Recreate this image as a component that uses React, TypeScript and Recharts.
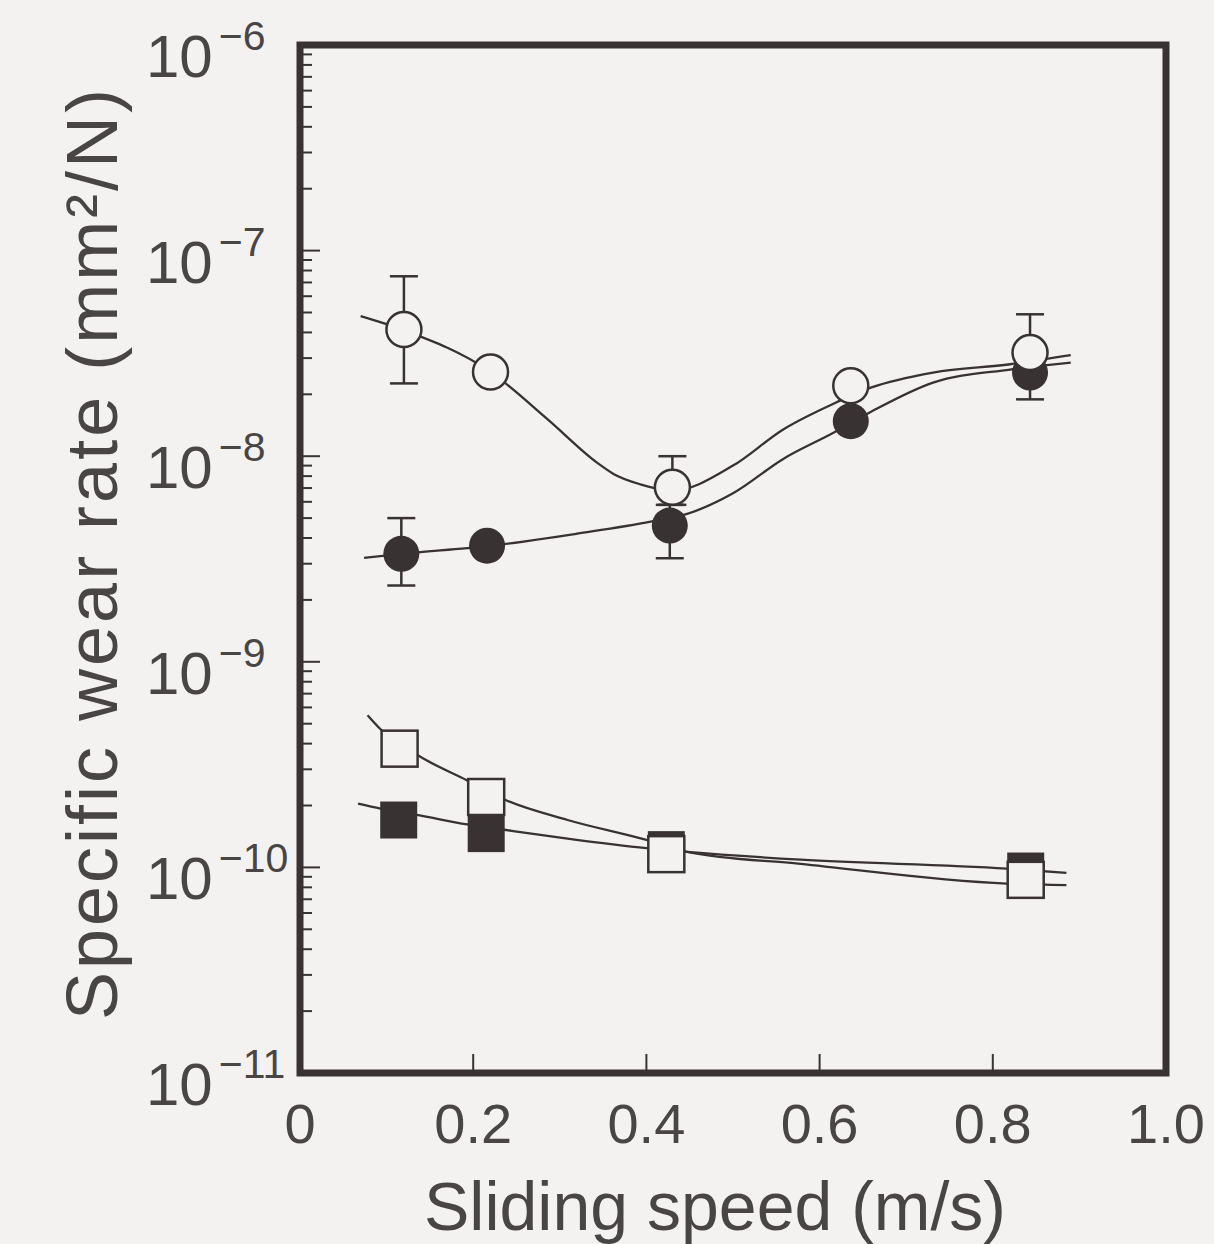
import React from "react";
import { ComposedChart, ErrorBar, Label, Line, ReferenceArea, Scatter, XAxis, YAxis } from "recharts";

const ink = "#383232";
const paper = "#f4f2f1";
const textInk = "#4a4545";
const font = "'Liberation Sans', Arial, Helvetica, sans-serif";

// axes
const xTickValues = [0, 0.2, 0.4, 0.6, 0.8, 1.0];
const xTickLabels = ["0", "0.2", "0.4", "0.6", "0.8", "1.0"];
const decadeExponents = [-11, -10, -9, -8, -7, -6];
const minorSteps = [2, 3, 4, 5, 6, 7, 8, 9];

// measured points
const openCircleX = [0.12, 0.22, 0.43, 0.636, 0.843];
const openCircleY = [4.13e-8, 2.57e-8, 7.06e-9, 2.2e-8, 3.19e-8];
const openCircleLow = [2.26e-8, null, 5.8e-9, null, 2.5e-8];
const openCircleHigh = [7.5e-8, null, 1.0e-8, null, 4.9e-8];

const filledCircleX = [0.117, 0.216, 0.427, 0.636, 0.843];
const filledCircleY = [3.35e-9, 3.67e-9, 4.6e-9, 1.48e-8, 2.55e-8];
const filledCircleLow = [2.35e-9, null, 3.19e-9, null, 1.89e-8];
const filledCircleHigh = [5.0e-9, null, 5.8e-9, null, 3.0e-8];

const openSquareX = [0.115, 0.215, 0.423, 0.838];
const openSquareY = [3.78e-10, 2.2e-10, 1.16e-10, 8.7e-11];

const filledSquareX = [0.114, 0.215, 0.423, 0.838];
const filledSquareY = [1.7e-10, 1.46e-10, 1.22e-10, 9.6e-11];

// fitted curves
const openCircleFitX = [0.07, 0.12, 0.22, 0.286, 0.343, 0.362, 0.393, 0.43, 0.5, 0.558, 0.616, 0.66, 0.731, 0.82, 0.89];
const openCircleFitY = [4.8e-8, 4.1e-8, 2.57e-8, 1.51e-8, 9.3e-9, 8.2e-9, 7.3e-9, 6.8e-9, 9.0e-9, 1.35e-8, 1.8e-8, 2.16e-8, 2.55e-8, 2.8e-8, 3.1e-8];

const filledCircleFitX = [0.074, 0.117, 0.216, 0.32, 0.405, 0.447, 0.5, 0.558, 0.616, 0.66, 0.731, 0.82, 0.89];
const filledCircleFitY = [3.2e-9, 3.35e-9, 3.65e-9, 4.2e-9, 4.8e-9, 5.24e-9, 6.6e-9, 9.7e-9, 1.3e-8, 1.65e-8, 2.28e-8, 2.64e-8, 2.85e-8];

const openSquareFitX = [0.078, 0.093, 0.138, 0.193, 0.238, 0.309, 0.4, 0.447, 0.578, 0.816, 0.885];
const openSquareFitY = [5.5e-10, 4.7e-10, 3.47e-10, 2.65e-10, 2.12e-10, 1.7e-10, 1.36e-10, 1.19e-10, 1.04e-10, 8.34e-11, 8.2e-11];

const filledSquareFitX = [0.067, 0.093, 0.135, 0.193, 0.238, 0.309, 0.4, 0.447, 0.578, 0.816, 0.885];
const filledSquareFitY = [2.04e-10, 1.93e-10, 1.8e-10, 1.62e-10, 1.52e-10, 1.38e-10, 1.24e-10, 1.19e-10, 1.09e-10, 9.87e-11, 9.4e-11];

const yTicks: number[] = [];
decadeExponents.forEach((e) => {
  yTicks.push(Math.pow(10, e));
  if (e < -6) minorSteps.forEach((m) => yTicks.push(m * Math.pow(10, e)));
});

function toPoints(xs: number[], ys: number[], lo?: (number | null)[], hi?: (number | null)[]) {
  return xs.map((x, i) => {
    const l = lo ? lo[i] : null;
    const h = hi ? hi[i] : null;
    return { x, y: ys[i], err: l != null && h != null ? [ys[i] - l, h - ys[i]] : null };
  });
}

const openCircles = toPoints(openCircleX, openCircleY, openCircleLow, openCircleHigh);
const filledCircles = toPoints(filledCircleX, filledCircleY, filledCircleLow, filledCircleHigh);
const openSquares = toPoints(openSquareX, openSquareY);
const filledSquares = toPoints(filledSquareX, filledSquareY);

const curves = [
  toPoints(openCircleFitX, openCircleFitY),
  toPoints(filledCircleFitX, filledCircleFitY),
  toPoints(openSquareFitX, openSquareFitY),
  toPoints(filledSquareFitX, filledSquareFitY),
];

function YTick(props: any) {
  const { x, y, payload } = props;
  const e = Math.log10(payload.value);
  const major = Math.abs(e - Math.round(e)) < 1e-6;
  return (
    <g>
      <line x1={x} x2={x + (major ? 20 : 12)} y1={y} y2={y} stroke={ink} strokeWidth={2} />
      {major && (
        <text x={146} y={y + 32} fill={textInk} fontFamily={font} fontSize={60}>
          10
          <tspan dx={6} dy={-27} fontSize={41}>
            {"\u2212" + String(-Math.round(e))}
          </tspan>
        </text>
      )}
    </g>
  );
}

function XTick(props: any) {
  const { x, y, payload } = props;
  const v = payload.value;
  const idx = xTickValues.findIndex((t) => Math.abs(t - v) < 1e-9);
  const inner = v > 0.001 && v < 0.999;
  return (
    <g>
      {inner && <line x1={x} x2={x} y1={y} y2={y - 19} stroke={ink} strokeWidth={2} />}
      <text x={x} y={y + 70} textAnchor="middle" fill={textInk} fontFamily={font} fontSize={56}>
        {xTickLabels[idx]}
      </text>
    </g>
  );
}

const OpenCircle = (p: any) => <circle cx={p.cx} cy={p.cy} r={17.5} fill={paper} stroke={ink} strokeWidth={2.5} />;
const FilledCircle = (p: any) => <circle cx={p.cx} cy={p.cy} r={18} fill={ink} />;
const OpenSquare = (p: any) => (
  <rect x={p.cx - 18} y={p.cy - 18} width={36} height={36} fill={paper} stroke={ink} strokeWidth={2.5} />
);
const FilledSquare = (p: any) => <rect x={p.cx - 18.5} y={p.cy - 18.5} width={37} height={37} fill={ink} />;

export default function App() {
  return (
    <div style={{ position: "absolute", left: 0, top: 0, width: 1214, height: 1244, background: paper }}>
      <ComposedChart width={1214} height={1244} margin={{ top: 45, right: 48, bottom: 0, left: 0 }}>
        <XAxis
          type="number"
          dataKey="x"
          domain={[0, 1]}
          ticks={xTickValues}
          interval={0}
          height={171}
          tickSize={0}
          tickMargin={0}
          axisLine={false}
          tickLine={false}
          tick={<XTick />}
        >
          <Label
            content={() => (
              <text x={715} y={1230} textAnchor="middle" fill={textInk} fontFamily={font} fontSize={68}>
                Sliding speed (m/s)
              </text>
            )}
          />
        </XAxis>
        <YAxis
          type="number"
          dataKey="y"
          scale="log"
          domain={[1e-11, 1e-6]}
          allowDataOverflow
          ticks={yTicks}
          interval={0}
          width={300}
          tickSize={0}
          tickMargin={0}
          axisLine={false}
          tickLine={false}
          tick={<YTick />}
        >
          <Label
            content={() => (
              <text
                transform="translate(117, 553) rotate(-90)"
                textAnchor="middle"
                fill={textInk}
                fontFamily={font}
                fontSize={72}
                letterSpacing={3}
              >
                Specific wear rate (mm²/N)
              </text>
            )}
          />
        </YAxis>
        {curves.map((c, i) => (
          <Line
            key={i}
            data={c}
            dataKey="y"
            type="monotone"
            stroke={ink}
            strokeWidth={2.3}
            dot={false}
            activeDot={false}
            isAnimationActive={false}
          />
        ))}
        <Scatter data={filledSquares} dataKey="y" shape={<FilledSquare />} isAnimationActive={false} />
        <Scatter data={openSquares} dataKey="y" shape={<OpenSquare />} isAnimationActive={false} />
        <Scatter data={filledCircles} dataKey="y" shape={<FilledCircle />} isAnimationActive={false}>
          <ErrorBar dataKey="err" direction="y" width={14} stroke={ink} strokeWidth={2.5} />
        </Scatter>
        <Scatter data={openCircles} dataKey="y" shape={<OpenCircle />} isAnimationActive={false}>
          <ErrorBar dataKey="err" direction="y" width={14} stroke={ink} strokeWidth={2.5} />
        </Scatter>
        <ReferenceArea
          x1={0}
          x2={1}
          y1={1e-11}
          y2={1e-6}
          fill="none"
          stroke={ink}
          strokeWidth={7}
          ifOverflow="visible"
        />
      </ComposedChart>
    </div>
  );
}
